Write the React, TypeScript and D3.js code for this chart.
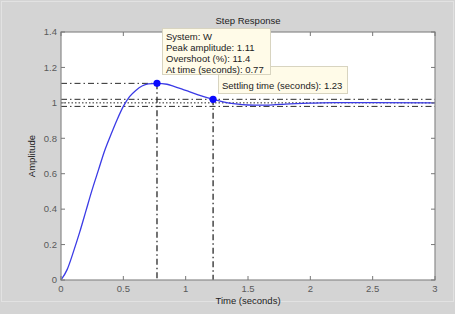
import React from "react";
import * as d3 from "d3";

const W = 455;
const H = 314;

// Step response samples
const timeValues = [0, 0.05, 0.1, 0.15, 0.2, 0.25, 0.3, 0.35, 0.4, 0.45, 0.5, 0.55, 0.6, 0.65, 0.7, 0.77, 0.85, 0.9, 1.0, 1.1, 1.23, 1.3, 1.4, 1.5, 1.6, 1.7, 1.8, 2.0, 2.2, 2.5, 3.0];
const amplitudeValues = [0, 0.06, 0.16, 0.27, 0.39, 0.51, 0.62, 0.73, 0.82, 0.905, 0.98, 1.035, 1.07, 1.095, 1.107, 1.11, 1.105, 1.095, 1.07, 1.045, 1.018, 1.006, 0.994, 0.988, 0.987, 0.989, 0.993, 0.998, 1.001, 1.001, 1.0];

const xTicks = [0, 0.5, 1, 1.5, 2, 2.5, 3];
const yTicks = [0, 0.2, 0.4, 0.6, 0.8, 1, 1.2, 1.4];

const peakTime = 0.77;
const peakAmp = 1.11;
const settleTime = 1.22;
const settleAmp = 1.02;
const bandHigh = 1.02;
const bandLow = 0.98;
const finalValue = 1.0;

const peakTipLines = ["System: W", "Peak amplitude: 1.11", "Overshoot (%): 11.4", "At time (seconds): 0.77"];
const settleTipLines = ["Settling time (seconds): 1.23"];

const title = "Step Response";
const xLabel = "Time (seconds)";
const yLabel = "Amplitude";

export default function App() {
  const left = 61, right = 435, top = 32, bottom = 280;
  const x = d3.scaleLinear().domain([0, 3]).range([left, right]);
  const y = d3.scaleLinear().domain([0, 1.4]).range([bottom, top]);
  const data = timeValues.map((t, i) => [t, amplitudeValues[i]] as [number, number]);
  const line = d3.line<[number, number]>().x(d => x(d[0])).y(d => y(d[1])).curve(d3.curveMonotoneX);
  const font = "'Liberation Sans', Arial, sans-serif";
  const dashDot = "6,3,1.5,3";
  const refColor = "#2a2a2a";
  const tickColor = "#777";
  const labelColor = "#5a5a5a";

  return (
    <svg width={W} height={H} style={{ position: "absolute", left: 0, top: 0 }} fontFamily={font}>
      <rect x={0} y={0} width={W} height={H} fill="#d4d4d4" />
      <rect x={1.5} y={1.5} width={W - 3} height={300} fill="none" stroke="#e2e2e2" strokeWidth={1} />
      <rect x={left} y={top} width={right - left} height={bottom - top} fill="#ffffff" />

      {/* reference lines */}
      <line x1={left} x2={right} y1={y(bandHigh)} y2={y(bandHigh)} stroke={refColor} strokeDasharray={dashDot} strokeWidth={1} />
      <line x1={left} x2={right} y1={y(finalValue)} y2={y(finalValue)} stroke={refColor} strokeDasharray="1.5,2" strokeWidth={1} />
      <line x1={left} x2={right} y1={y(bandLow)} y2={y(bandLow)} stroke={refColor} strokeDasharray={dashDot} strokeWidth={1} />
      <line x1={left} x2={x(peakTime)} y1={y(peakAmp)} y2={y(peakAmp)} stroke={refColor} strokeDasharray={dashDot} strokeWidth={1} />
      <line x1={x(peakTime)} x2={x(peakTime)} y1={y(peakAmp)} y2={bottom} stroke={refColor} strokeDasharray={dashDot} strokeWidth={1.3} />
      <line x1={x(settleTime)} x2={x(settleTime)} y1={y(settleAmp)} y2={bottom} stroke={refColor} strokeDasharray={dashDot} strokeWidth={1.3} />

      {/* curve */}
      <path d={line(data) || ""} fill="none" stroke="#3b3be6" strokeWidth={1.3} />
      <circle cx={x(peakTime)} cy={y(peakAmp)} r={3.6} fill="#0a0aff" />
      <circle cx={x(settleTime)} cy={y(settleAmp)} r={3.6} fill="#0a0aff" />

      {/* axes box */}
      <rect x={left} y={top} width={right - left} height={bottom - top} fill="none" stroke="#8a8a8a" strokeWidth={1.2} />
      {xTicks.map(t => (
        <g key={"xt" + t}>
          <line x1={x(t)} x2={x(t)} y1={bottom} y2={bottom - 4} stroke={tickColor} />
          <line x1={x(t)} x2={x(t)} y1={top} y2={top + 4} stroke={tickColor} />
          <text x={x(t)} y={292} fontSize={9.5} fill={labelColor} textAnchor="middle">{String(t)}</text>
        </g>
      ))}
      {yTicks.map(v => (
        <g key={"yt" + v}>
          <line x1={left} x2={left + 4} y1={y(v)} y2={y(v)} stroke={tickColor} />
          <line x1={right} x2={right - 4} y1={y(v)} y2={y(v)} stroke={tickColor} />
          <text x={57} y={y(v) + 3.3} fontSize={9.5} fill={labelColor} textAnchor="end">{String(v)}</text>
        </g>
      ))}

      <text x={(left + right) / 2} y={24} fontSize={9.5} fill="#222" textAnchor="middle">{title}</text>
      <text x={(left + right) / 2} y={304} fontSize={9.5} fill="#222" textAnchor="middle">{xLabel}</text>
      <text transform={`translate(35,${(top + bottom) / 2}) rotate(-90)`} fontSize={9.5} fill="#222" textAnchor="middle">{yLabel}</text>

      {/* data tips */}
      <rect x={218.5} y={66.5} width={129} height={27} fill="#fffbe8" stroke="#d8d4c0" />
      {settleTipLines.map((s, i) => (
        <text key={s} x={222} y={89 + i * 11} fontSize={9.5} fill="#222">{s}</text>
      ))}
      <rect x={162.5} y={28.5} width={108} height={46} fill="#fffbe8" stroke="#d8d4c0" />
      {peakTipLines.map((s, i) => (
        <text key={s} x={166} y={39.5 + i * 11.2} fontSize={9.5} fill="#222">{s}</text>
      ))}
    </svg>
  );
}
